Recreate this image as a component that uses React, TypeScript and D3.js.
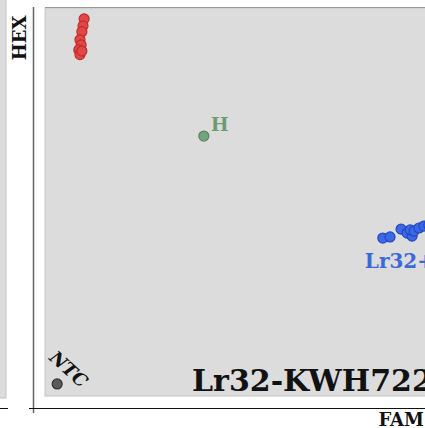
import * as d3 from 'd3';

// normalised fluorescence (FAM on x, HEX on y)
const hexFam = [
  [0.103, 0.972], [0.1, 0.954], [0.097, 0.939], [0.092, 0.918],
  [0.095, 0.905], [0.089, 0.892], [0.092, 0.88], [0.097, 0.889],
];
const heteroz = [[0.418, 0.67]];
const lr32 = [
  [0.889, 0.407], [0.908, 0.41], [0.937, 0.43], [0.953, 0.42], [0.966, 0.412],
  [0.961, 0.428], [0.971, 0.425], [0.984, 0.433], [0.997, 0.438], [1.01, 0.44],
];
const ntc = [[0.032, 0.031]];

const W = 425;
const H = 428;
const serif = '"DejaVu Serif", serif';

export default function App() {
  const x = d3.scaleLinear().domain([0, 1]).range([45, 425]);
  const y = d3.scaleLinear().domain([0, 1]).range([396, 8]);

  const groups = [
    { pts: hexFam, fill: '#e04848', stroke: '#c42a2a' },
    { pts: heteroz, fill: '#73a37b', stroke: '#55855e' },
    { pts: lr32, fill: '#3c68e4', stroke: '#2347c2' },
    { pts: ntc, fill: '#5a5a5a', stroke: '#333' },
  ];

  return (
    <svg width={W} height={H} style={{ position: 'absolute', left: 0, top: 0, background: '#fff' }}>
      {/* neighbouring panel remnant */}
      <rect x={-2} y={-2} width={8} height={400} fill="#dcdcdc" stroke="#c4c4c4" />
      <line x1={0} x2={8} y1={408.5} y2={408.5} stroke="#111" />

      {/* plot panel */}
      <rect x={x(0)} y={y(1)} width={W - x(0) + 2} height={y(0) - y(1)} fill="#dcdcdc" stroke="#c6c6c6" />
      <line x1={x(0)} x2={W} y1={y(1) - 0.5} y2={y(1) - 0.5} stroke="#999" />

      {/* axes */}
      <line x1={33.5} x2={33.5} y1={7} y2={413} stroke="#666" strokeWidth={1.5} />
      <line x1={29} x2={W} y1={408.5} y2={408.5} stroke="#111" />

      {groups.map((g, gi) => (
        <g key={gi}>
          {g.pts.map((p, i) => (
            <circle key={i} cx={x(p[0])} cy={y(p[1])} r={5} fill={g.fill} stroke={g.stroke} strokeWidth={1.2} />
          ))}
        </g>
      ))}

      <text x={x(heteroz[0][0]) + 7} y={y(heteroz[0][1]) - 5} fontFamily={serif} fontWeight="bold" fontSize={19} fill="#6a9c72">H</text>
      <text x={x(lr32[0][0]) - 18} y={y(lr32[0][1]) + 30} fontFamily={serif} fontWeight="bold" fontSize={20} fill="#3c68d8">Lr32+</text>
      <text transform={`translate(${x(ntc[0][0]) - 9},${y(ntc[0][1]) - 25}) rotate(42)`} fontFamily={serif} fontWeight="bold" fontStyle="italic" fontSize={18} fill="#111">NTC</text>

      <text x={192} y={391} fontFamily={serif} fontWeight="bold" fontSize={30} fill="#111">Lr32-KWH722</text>

      <text transform="translate(26,38) rotate(-90)" textAnchor="middle" fontFamily={serif} fontWeight="bold" fontSize={18} fill="#111">HEX</text>
      <text x={424} y={426} textAnchor="end" fontFamily={serif} fontWeight="bold" fontSize={18} fill="#111">FAM</text>
    </svg>
  );
}
